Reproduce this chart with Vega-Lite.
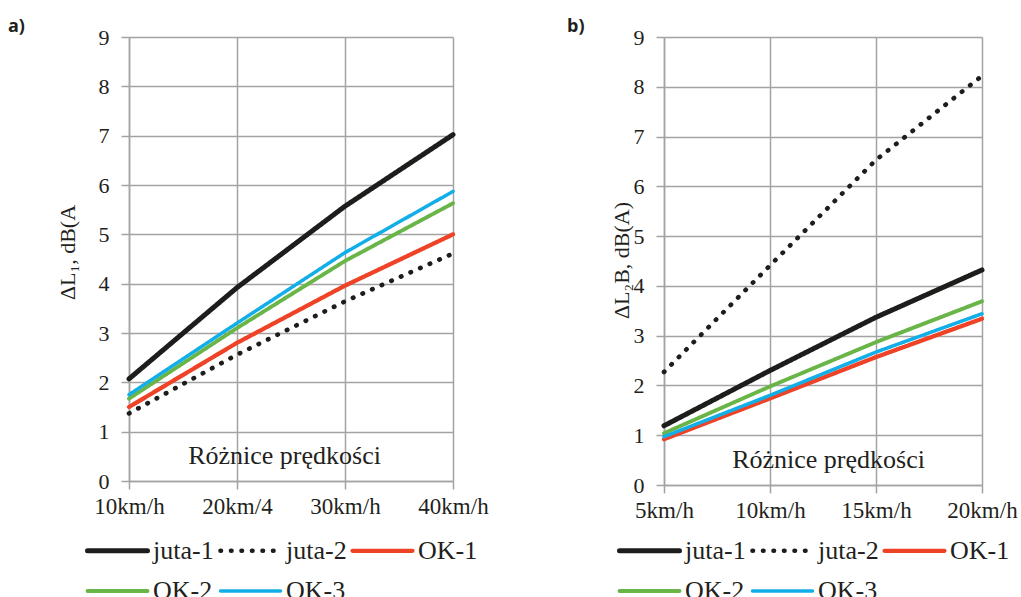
{
  "$schema": "https://vega.github.io/schema/vega-lite/v6.json",
  "background": "white",
  "padding": {"left": 8, "top": 18, "right": 0, "bottom": 0},
  "datasets": {
    "a": [
      {"series": "juta-1", "speed": 10, "value": 2.07},
      {"series": "juta-1", "speed": 20, "value": 3.92},
      {"series": "juta-1", "speed": 30, "value": 5.57},
      {"series": "juta-1", "speed": 40, "value": 7.02},
      {"series": "juta-2", "speed": 10, "value": 1.37},
      {"series": "juta-2", "speed": 20, "value": 2.56},
      {"series": "juta-2", "speed": 30, "value": 3.64},
      {"series": "juta-2", "speed": 40, "value": 4.61},
      {"series": "OK-1", "speed": 10, "value": 1.5},
      {"series": "OK-1", "speed": 20, "value": 2.8},
      {"series": "OK-1", "speed": 30, "value": 3.96},
      {"series": "OK-1", "speed": 40, "value": 5.0},
      {"series": "OK-2", "speed": 10, "value": 1.67},
      {"series": "OK-2", "speed": 20, "value": 3.1},
      {"series": "OK-2", "speed": 30, "value": 4.46},
      {"series": "OK-2", "speed": 40, "value": 5.63},
      {"series": "OK-3", "speed": 10, "value": 1.75},
      {"series": "OK-3", "speed": 20, "value": 3.2},
      {"series": "OK-3", "speed": 30, "value": 4.63},
      {"series": "OK-3", "speed": 40, "value": 5.87}
    ],
    "b": [
      {"series": "juta-1", "speed": 5, "value": 1.19},
      {"series": "juta-1", "speed": 10, "value": 2.3},
      {"series": "juta-1", "speed": 15, "value": 3.37},
      {"series": "juta-1", "speed": 20, "value": 4.32},
      {"series": "juta-2", "speed": 5, "value": 2.27},
      {"series": "juta-2", "speed": 10, "value": 4.41},
      {"series": "juta-2", "speed": 15, "value": 6.53},
      {"series": "juta-2", "speed": 20, "value": 8.22},
      {"series": "OK-1", "speed": 5, "value": 0.92},
      {"series": "OK-1", "speed": 10, "value": 1.74},
      {"series": "OK-1", "speed": 15, "value": 2.57},
      {"series": "OK-1", "speed": 20, "value": 3.34},
      {"series": "OK-2", "speed": 5, "value": 1.04},
      {"series": "OK-2", "speed": 10, "value": 1.98},
      {"series": "OK-2", "speed": 15, "value": 2.87},
      {"series": "OK-2", "speed": 20, "value": 3.69},
      {"series": "OK-3", "speed": 5, "value": 0.97},
      {"series": "OK-3", "speed": 10, "value": 1.8},
      {"series": "OK-3", "speed": 15, "value": 2.67},
      {"series": "OK-3", "speed": 20, "value": 3.44}
    ]
  },
  "config": {
    "view": {"stroke": null},
    "font": "Liberation Serif",
    "axis": {
      "grid": true,
      "gridColor": "#a3a3a3",
      "gridWidth": 1.5,
      "domainColor": "#a3a3a3",
      "domainWidth": 1.5,
      "tickColor": "#a3a3a3",
      "tickWidth": 1.5,
      "tickSize": 8,
      "labelFont": "Liberation Serif",
      "labelColor": "#231f20",
      "titleFont": "Liberation Serif",
      "titleColor": "#231f20",
      "titleFontWeight": "normal"
    },
    "axisX": {"labelFont": "Liberation Serif", "labelFontSize": 23, "labelPadding": 6, "labelFlush": false, "titleFontSize": 26},
    "axisY": {"labelFont": "Liberation Serif", "labelFontSize": 22, "labelPadding": 12, "titleFontSize": 22},
    "title": {
      "font": "Open Sans",
      "fontSize": 18,
      "fontWeight": "bold",
      "color": "#231f20",
      "anchor": "start",
      "frame": "group",
      "baseline": "alphabetic"
    },
    "legend": {
      "orient": "none",
      "direction": "horizontal",
      "columns": 3,
      "symbolType": "M-1,0H3",
      "symbolSize": 900,
      "symbolStrokeWidth": 6,
      "labelFont": "Liberation Serif",
      "labelFontSize": 26,
      "labelColor": "#231f20",
      "labelOffset": 33,
      "labelLimit": 200,
      "columnPadding": -3,
      "rowPadding": 10
    }
  },
  "spacing": 211,
  "bounds": "flush",
  "resolve": {
    "scale": {"color": "independent", "strokeDash": "independent", "strokeWidth": "independent"},
    "legend": {"color": "independent", "strokeDash": "independent", "strokeWidth": "independent"}
  },
  "hconcat": [
    {
      "width": 324,
      "height": 444,
      "title": {"text": "a)", "dx": -121, "offset": -10},
      "data": {"name": "a"},
      "mark": {"type": "line", "strokeCap": "round", "strokeJoin": "round"},
      "encoding": {
        "x": {
          "field": "speed",
          "type": "quantitative",
          "scale": {"domain": [10, 40], "nice": false, "zero": false},
          "axis": {
            "values": [10, 20, 30, 40],
            "labelExpr": "datum.value == 20 ? '20km/4' : datum.value + 'km/h'",
            "title": "Różnice prędkości",
            "titleX": 155,
            "titleY": -18,
            "titleAlign": "center",
            "titleBaseline": "alphabetic"
          }
        },
        "y": {
          "field": "value",
          "type": "quantitative",
          "scale": {"domain": [0, 9], "nice": false},
          "axis": {
            "values": [0, 1, 2, 3, 4, 5, 6, 7, 8, 9],
            "title": "ΔL₁, dB(A",
            "titleX": -62,
            "titleY": 215,
            "titleAngle": -90,
            "titleAlign": "center",
            "titleBaseline": "middle"
          }
        },
        "color": {
          "field": "series",
          "type": "nominal",
          "scale": {
            "domain": ["juta-1", "juta-2", "OK-1", "OK-2", "OK-3"],
            "range": ["#1d1d1b", "#1d1d1b", "#ee4327", "#6ab547", "#12aee8"]
          },
          "legend": {"title": null, "legendX": -44, "legendY": 496, "encode": {"symbols": {"update": {"strokeWidth": {"value": 6}, "strokeCap": {"value": "round"}}}}}
        },
        "strokeDash": {
          "field": "series",
          "type": "nominal",
          "scale": {
            "domain": ["juta-1", "juta-2", "OK-1", "OK-2", "OK-3"],
            "range": [[1, 0], [0.5, 10], [1, 0], [1, 0], [1, 0]]
          },
          "legend": {"title": null, "legendX": -44, "legendY": 496, "encode": {"symbols": {"update": {"strokeWidth": {"value": 6}, "strokeCap": {"value": "round"}}}}}
        },
        "strokeWidth": {
          "field": "series",
          "type": "nominal",
          "scale": {
            "domain": ["juta-1", "juta-2", "OK-1", "OK-2", "OK-3"],
            "range": [5, 3.5, 5, 5, 5]
          },
          "legend": {"title": null, "legendX": -44, "legendY": 496, "encode": {"symbols": {"update": {"strokeWidth": {"value": 6}, "strokeCap": {"value": "round"}}}}}
        }
      }
    },
    {
      "width": 318,
      "height": 448,
      "title": {"text": "b)", "dx": -97, "offset": -10},
      "data": {"name": "b"},
      "mark": {"type": "line", "strokeCap": "round", "strokeJoin": "round"},
      "encoding": {
        "x": {
          "field": "speed",
          "type": "quantitative",
          "scale": {"domain": [5, 20], "nice": false, "zero": false},
          "axis": {
            "values": [5, 10, 15, 20],
            "labelExpr": "datum.value + 'km/h'",
            "title": "Różnice prędkości",
            "titleX": 164,
            "titleY": -18,
            "titleAlign": "center",
            "titleBaseline": "alphabetic"
          }
        },
        "y": {
          "field": "value",
          "type": "quantitative",
          "scale": {"domain": [0, 9], "nice": false},
          "axis": {
            "values": [0, 1, 2, 3, 4, 5, 6, 7, 8, 9],
            "title": "ΔL₂B, dB(A)",
            "titleX": -43,
            "titleY": 223,
            "titleAngle": -90,
            "titleAlign": "center",
            "titleBaseline": "middle"
          }
        },
        "color": {
          "field": "series",
          "type": "nominal",
          "scale": {
            "domain": ["juta-1", "juta-2", "OK-1", "OK-2", "OK-3"],
            "range": ["#1d1d1b", "#1d1d1b", "#ee4327", "#6ab547", "#12aee8"]
          },
          "legend": {"title": null, "legendX": -47, "legendY": 496, "encode": {"symbols": {"update": {"strokeWidth": {"value": 6}, "strokeCap": {"value": "round"}}}}}
        },
        "strokeDash": {
          "field": "series",
          "type": "nominal",
          "scale": {
            "domain": ["juta-1", "juta-2", "OK-1", "OK-2", "OK-3"],
            "range": [[1, 0], [0.5, 10], [1, 0], [1, 0], [1, 0]]
          },
          "legend": {"title": null, "legendX": -47, "legendY": 496, "encode": {"symbols": {"update": {"strokeWidth": {"value": 6}, "strokeCap": {"value": "round"}}}}}
        },
        "strokeWidth": {
          "field": "series",
          "type": "nominal",
          "scale": {
            "domain": ["juta-1", "juta-2", "OK-1", "OK-2", "OK-3"],
            "range": [5, 3.5, 5, 5, 5]
          },
          "legend": {"title": null, "legendX": -47, "legendY": 496, "encode": {"symbols": {"update": {"strokeWidth": {"value": 6}, "strokeCap": {"value": "round"}}}}}
        }
      }
    }
  ]
}
